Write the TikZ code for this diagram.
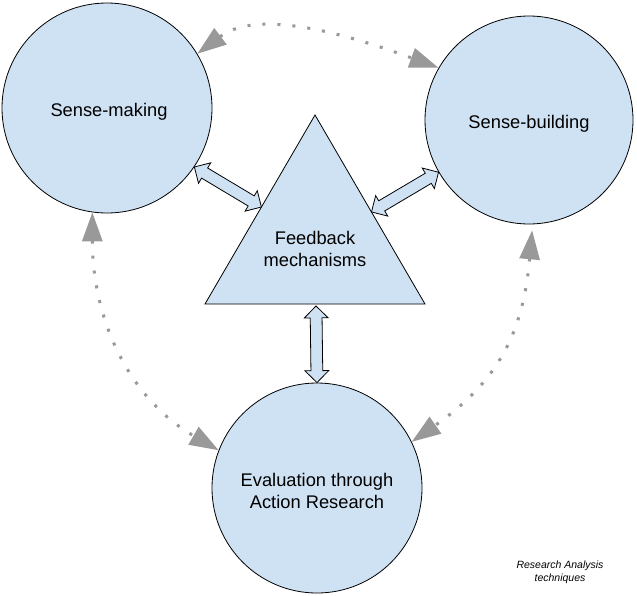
\documentclass[tikz,border=0pt]{standalone}
\usepackage{fontspec}
\setmainfont{Liberation Sans}
\usetikzlibrary{calc,shapes.arrows,arrows.meta}
\definecolor{lblue}{HTML}{CFE2F3}
\definecolor{dotgray}{HTML}{999999}
\tikzset{
  bubble/.style={circle, draw=black, line width=0.8pt, fill=lblue, inner sep=0pt},
  dblarr/.style={double arrow, draw=black, fill=lblue, line width=0.8pt,
    inner xsep=0pt, inner ysep=5.5pt, minimum width=0pt,
    double arrow head extend=6pt, double arrow head indent=0pt},
  dotlink/.style={draw=dotgray, line width=3pt, dash pattern=on 3pt off 12pt,
    {Triangle[length=29pt,width=20pt,fill=dotgray]}-{Triangle[length=29pt,width=20pt,fill=dotgray]}},
  lbl/.style={align=center, font=\fontsize{18.3}{22.5}\selectfont},
  note/.style={align=center, font=\fontsize{10.5}{13}\selectfont\itshape}
}
\newcommand\DblArrowBetween[3]{%
  \path let \p1=($(#3)-(#2)$) in
    node[dblarr, minimum height={veclen(\x1,\y1)}, rotate={atan2(\y1,\x1)}] (#1)
      at ($(#2)!0.5!(#3)$) {};}
\begin{document}
\begin{tikzpicture}[x=1pt,y=-1pt]
\useasboundingbox[fill=white] (0,0) rectangle (637,595);

% circles
\node[bubble, minimum size=210pt] (sm) at (107,108) {};
\node[bubble, minimum size=208pt] (sb) at (529,120) {};
\node[bubble, minimum size=210pt] (ev) at (317,488) {};
\node[lbl] (smt) at (109,112) {Sense-making};
\node[lbl] (sbt) at (529,124) {Sense-building};
\node[lbl] (evt) at (317,491) {Evaluation through\\Action Research};

% triangle
\coordinate (tA) at (315,115);
\coordinate (tL) at (205,304);
\coordinate (tR) at (425,304);
\draw[line width=0.8pt, fill=lblue, line join=miter] (tA) -- (tL) -- (tR) -- cycle;
\node[lbl] (fb) at (315,249) {Feedback\\mechanisms};

% double arrows
\coordinate (la) at (sm.-34);
\coordinate (lb) at ($(tL)!0.513!(tA)$);
\coordinate (ra) at ($(tR)!0.487!(tA)$);
\coordinate (rb) at (sb.210);
\coordinate (va) at (316,306);
\coordinate (vb) at (ev.90);
\DblArrowBetween{dl}{la}{lb}
\DblArrowBetween{dr}{ra}{rb}
\DblArrowBetween{dv}{va}{vb}

% dotted curved connectors
\draw[dotlink] (sm.31) to[out=37, in=160, looseness=0.85] (sb.150);
\draw[dotlink] (sm.262) to[out=270, in=150] (ev.159);
\draw[dotlink, shorten <=6pt] (sb.272) to[out=265, in=35, looseness=1.1] (ev.26);

% note
\node[note] (nt) at (560,572) {Research Analysis\\techniques};
\end{tikzpicture}
\end{document}
